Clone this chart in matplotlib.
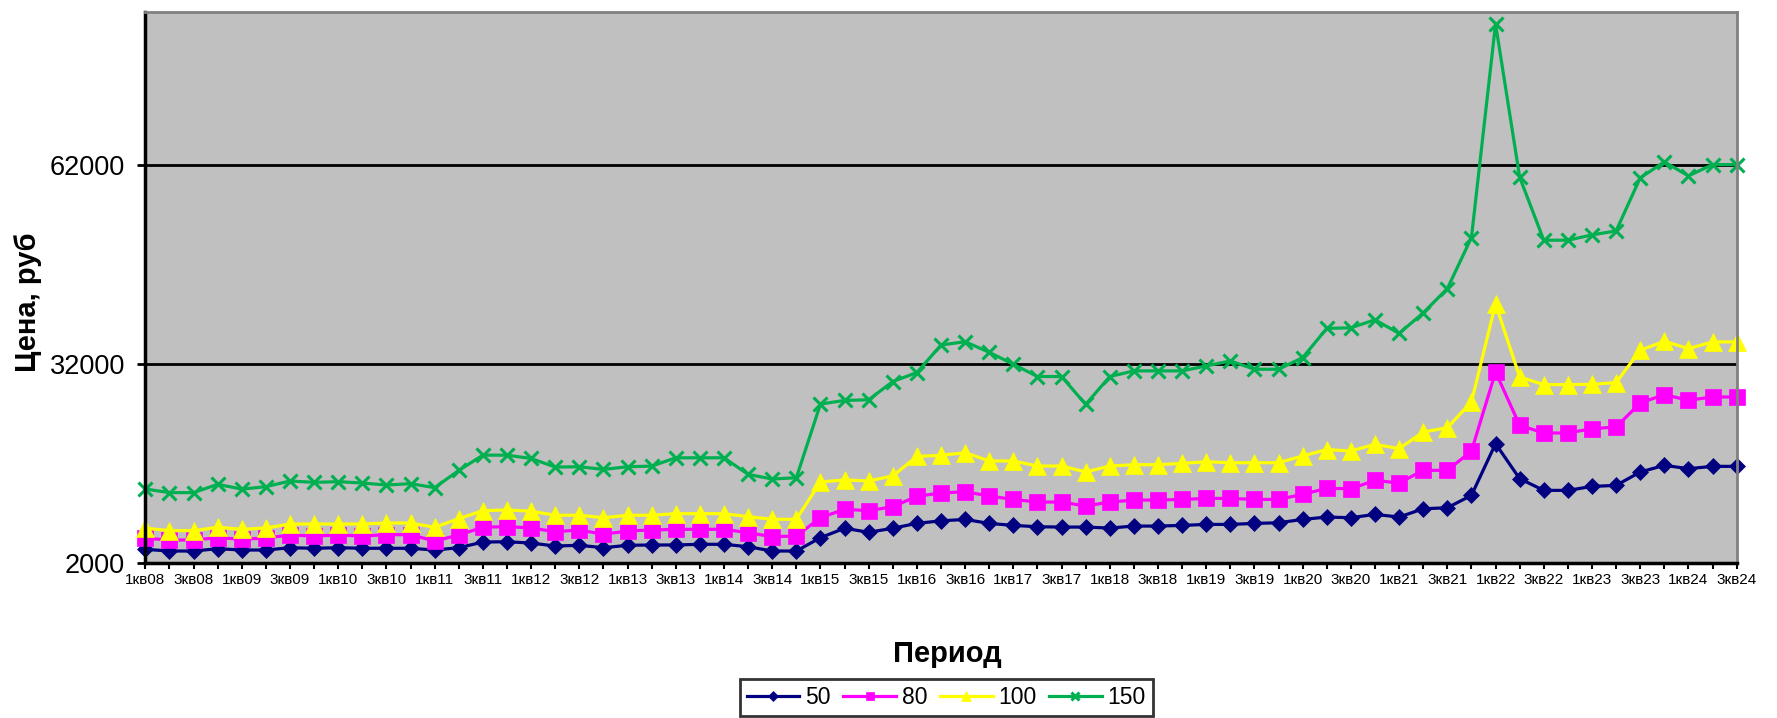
import matplotlib
matplotlib.use('Agg')
from matplotlib import pyplot as plt

plt.rcParams['font.family'] = ['Liberation Sans', 'DejaVu Sans']

# quarters 1кв08 .. 3кв24
periods = ['%dкв%02d' % (q, y) for y in range(8, 25) for q in range(1, 5)][:67]

p50 = [4000, 3750, 3750, 4100, 3900, 3900, 4250, 4160, 4250, 4160, 4160, 4160, 3900, 4250, 5100, 5150,
       4950, 4500, 4610, 4250, 4610, 4660, 4660, 4760, 4760, 4400, 3750, 3750, 5760, 7180, 6570, 7180,
       7920, 8300, 8510, 7910, 7610, 7410, 7360, 7360, 7210, 7510, 7510, 7610, 7760, 7760, 7910, 8010,
       8510, 8870, 8770, 9270, 8870, 10120, 10270, 12140, 19930, 14650, 12890, 12890, 13490, 13640,
       15660, 16660, 16160, 16510, 16510]
p80 = [5670, 5410, 5410, 5760, 5520, 5710, 6160, 6010, 6160, 6010, 6210, 6210, 5260, 6160, 7330, 7430,
       7220, 6660, 6920, 6270, 6770, 6920, 7020, 7020, 7020, 6510, 5910, 6010, 8770, 10040, 9830, 10430,
       12000, 12500, 12690, 12040, 11530, 11130, 11130, 10530, 11130, 11430, 11430, 11530, 11680, 11680,
       11530, 11530, 12290, 13200, 13140, 14400, 14000, 15910, 15910, 18820, 30740, 22700, 21540, 21540,
       22190, 22440, 26070, 27320, 26470, 26970, 26970]
p100 = [7180, 6820, 6820, 7330, 7020, 7220, 7820, 7820, 7820, 7820, 7970, 7970, 7330, 8620, 9830, 9940,
        9750, 9140, 9140, 8770, 9140, 9140, 9380, 9380, 9380, 8920, 8530, 8530, 14160, 14460, 14310, 15070,
        18000, 18170, 18570, 17320, 17320, 16560, 16560, 15660, 16560, 16760, 16760, 16960, 17210, 17060,
        17060, 17060, 18070, 19050, 18820, 19830, 19180, 21690, 22340, 26220, 41000, 29990, 28830, 28830,
        28880, 29130, 34010, 35370, 34260, 35270, 35270]
p150 = [13100, 12550, 12550, 13800, 13080, 13450, 14300, 14100, 14200, 14000, 13700, 13900, 13300, 15900,
        18200, 18200, 17700, 16400, 16450, 16050, 16450, 16550, 17800, 17800, 17800, 15300, 14600, 14800,
        25900, 26450, 26550, 29300, 30650, 34800, 35300, 33700, 31900, 30050, 30050, 25850, 30050, 30900,
        30900, 30900, 31650, 32400, 31150, 31150, 32900, 37300, 37400, 38600, 36550, 39650, 43300, 51000,
        83200, 60100, 50600, 50600, 51400, 52000, 60000, 62400, 60300, 62000, 62000]

series_names = ['50', '80', '100', '150']
series_vals = [p50, p80, p100, p150]
colors = ['#000080', '#FF00FF', '#FFFF00', '#00B050']
markers = ['D', 's', '^', 'x']
msizes = [8.5, 11.5, 13, 10]

fig = plt.figure(figsize=(17.77, 7.18), dpi=100)
ax = fig.add_axes([0.0818, 0.2164, 0.8955, 0.7669])
ax.set_facecolor('#C0C0C0')

x = list(range(len(periods)))
for name, vals, c, m, ms in zip(series_names, series_vals, colors, markers, msizes):
    ax.plot(x, vals, color=c, lw=2.3, marker=m, markersize=ms, markeredgewidth=2.2 if m == 'x' else 0.5,
            markeredgecolor=c, markerfacecolor=c, label=name, clip_on=False)

ax.set_xlim(0, len(periods) - 1)
ax.set_ylim(2000, 85000)
ax.set_yticks([2000, 32000, 62000])
ax.set_xticks(x)
ax.set_xticklabels([p if i % 2 == 0 else '' for i, p in enumerate(periods)], fontsize=11)
ax.tick_params(axis='y', labelsize=19.5, length=5.5, width=2, pad=9, color='black')
ax.tick_params(axis='x', length=4.5, width=1.5, pad=3, color='black')
ax.grid(axis='y', color='black', lw=2)
ax.set_axisbelow(True)
for s in ['left', 'bottom']:
    ax.spines[s].set_linewidth(2.5)
    ax.spines[s].set_color('black')
for s in ['top', 'right']:
    ax.spines[s].set_linewidth(2)
    ax.spines[s].set_color('#808080')

fig.text(0.0155, 0.579, 'Цена, руб', rotation=90, ha='center', va='center', fontsize=21, fontweight='bold')
fig.text(0.533, 0.0784, 'Период', ha='center', va='baseline', fontsize=21, fontweight='bold')

leg = fig.legend(loc='lower center', bbox_to_anchor=(0.5325, 0.003), ncol=4, fontsize=16.5,
                 handlelength=2.3, handletextpad=0.25, columnspacing=0.55, borderpad=0.3,
                 borderaxespad=0, fancybox=False, frameon=True, markerscale=0.55)
leg.get_frame().set_edgecolor('black')
leg.get_frame().set_linewidth(2)

fig.savefig('out.png', dpi=100)
